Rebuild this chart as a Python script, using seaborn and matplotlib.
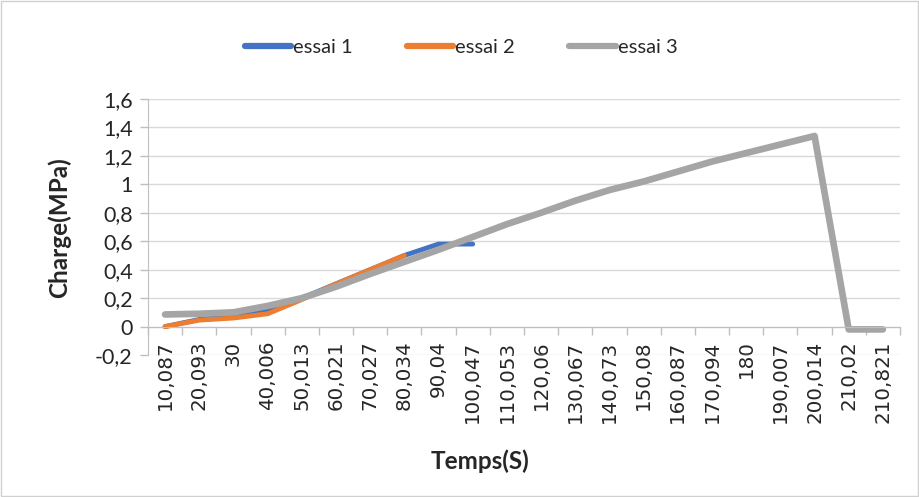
import matplotlib
matplotlib.use("Agg")
import matplotlib.pyplot as plt
from matplotlib.patches import Rectangle
from matplotlib.lines import Line2D
import numpy as np
import pandas as pd
import seaborn as sns

# categories (temps) and series
temps = ["10,087", "20,093", "30", "40,006", "50,013", "60,021", "70,027",
         "80,034", "90,04", "100,047", "110,053", "120,06", "130,067",
         "140,073", "150,08", "160,087", "170,094", "180", "190,007",
         "200,014", "210,02", "210,821"]
essai1 = [0, 0.05, 0.07, 0.11, 0.2, 0.3, 0.4, 0.5, 0.58, 0.58]
essai2 = [0, 0.045, 0.06, 0.09, 0.19, 0.3, 0.4, 0.5]
essai3 = [0.085, 0.09, 0.1, 0.145, 0.2, 0.28, 0.37, 0.455, 0.54, 0.63,
          0.72, 0.8, 0.885, 0.96, 1.02, 1.09, 1.16, 1.22, 1.28, 1.34,
          -0.02, -0.02]
y_ticks = [-0.2, 0, 0.2, 0.4, 0.6, 0.8, 1, 1.2, 1.4, 1.6]
y_labels = ["-0,2", "0", "0,2", "0,4", "0,6", "0,8", "1", "1,2", "1,4", "1,6"]

series = {"essai 1": essai1, "essai 2": essai2, "essai 3": essai3}
couleurs = {"essai 1": "#4472C4", "essai 2": "#ED7D31", "essai 3": "#A5A5A5"}
largeurs = {"essai 1": 3.5, "essai 2": 3.5, "essai 3": 4.8}

# format long pour seaborn, x = position de la categorie
rows = []
for nom, vals in series.items():
    for i, v in enumerate(vals):
        rows.append({"pos": i, "charge": v, "essai": nom})
df = pd.DataFrame(rows)

sns.set_style("white")
plt.rcParams["font.family"] = ["DejaVu Sans"]

fig = plt.figure(figsize=(9.2, 4.97), dpi=100)
ax = fig.add_axes([148 / 920, 1 - 355 / 497, 752 / 920, 256 / 497])

for nom in ["essai 1", "essai 2", "essai 3"]:
    sub = df[df["essai"] == nom]
    sns.lineplot(data=sub, x="pos", y="charge", ax=ax, color=couleurs[nom],
                 linewidth=largeurs[nom], solid_capstyle="round",
                 solid_joinstyle="round", estimator=None, sort=False)

n = len(temps)
ax.set_xlim(-0.5, n - 0.5)
ax.set_ylim(-0.2, 1.6)

# grille horizontale
ax.set_yticks(y_ticks)
ax.set_yticklabels(y_labels, fontfamily="Lato", fontsize=15.5)
ax.yaxis.grid(True, color="#d9d9d9", linewidth=1)
ax.set_axisbelow(True)
ax.tick_params(axis="y", length=6, color="#bfbfbf", width=1, pad=5, left=True)

# axe des categories a y=0, traits entre les categories
for s in ["top", "right"]:
    ax.spines[s].set_visible(False)
ax.spines["left"].set_color("#bfbfbf")
ax.spines["bottom"].set_color("#bfbfbf")
ax.spines["bottom"].set_position(("data", 0))
ax.set_xticks(np.arange(n))
ax.set_xticklabels(temps, rotation=90, fontsize=14.3, va="top")
ax.tick_params(axis="x", which="major", length=0, pad=10)
ax.set_xticks(np.arange(n + 1) - 0.5, minor=True)
ax.tick_params(axis="x", which="minor", length=6, color="#bfbfbf", width=1,
               bottom=True)

ax.set_xlabel("")
ax.set_ylabel("")
fig.text(480 / 920, 1 - 461 / 497, "Temps(S)", ha="center", va="center",
         fontfamily="Lato", fontweight="bold", fontsize=17.5)
fig.text(59 / 920, 1 - 228 / 497, "Charge(MPa)", ha="center", va="center",
         rotation=90, fontfamily="Lato", fontweight="bold", fontsize=17.5)

handles = [Line2D([], [], color=couleurs[k], linewidth=4.5,
                  solid_capstyle="round") for k in series]
leg = ax.get_legend()
if leg is not None:
    leg.remove()
fig.legend(handles, list(series.keys()), loc="center",
           bbox_to_anchor=(461 / 920, 1 - 47 / 497), ncol=3, frameon=False,
           prop={"family": "Lato", "size": 14.5}, handlelength=2.3,
           handletextpad=0.1, columnspacing=2.7)

fig.patches.append(Rectangle((0.001, 0.002), 0.997, 0.995,
                             transform=fig.transFigure, fill=False,
                             edgecolor="#d0d0d0", linewidth=1))

fig.savefig("out.png", dpi=100)
